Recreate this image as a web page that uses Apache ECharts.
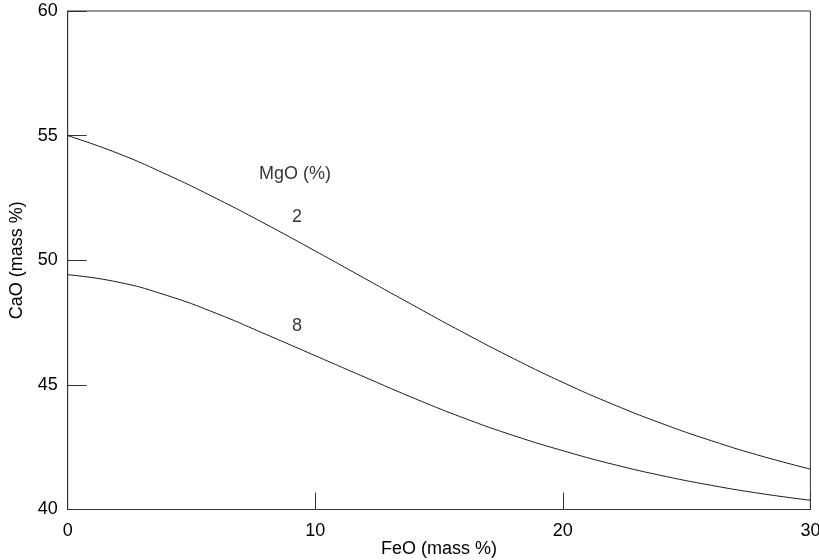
<!DOCTYPE html>
<html>
<head>
<meta charset="utf-8">
<script src="https://cdn.jsdelivr.net/npm/echarts@6/dist/echarts.min.js"></script>
<style>
html,body{margin:0;padding:0;background:#fff;}
#chart{width:819px;height:560px;}
</style>
</head>
<body>
<div id="chart"></div>
<script>
// FeO (mass %) sample positions
const feo = [0, 2, 4, 6, 8, 10, 12, 14, 16, 18, 20, 22, 24, 26, 28, 30];
// CaO (mass %) for MgO = 2 %
const cao_mgo2 = [55.0, 54.3, 53.44, 52.48, 51.45, 50.37, 49.27, 48.17, 47.09, 46.06, 45.1, 44.23, 43.45, 42.76, 42.15, 41.62];
// CaO (mass %) for MgO = 8 %
const cao_mgo8 = [49.42, 49.13, 48.59, 47.87, 47.03, 46.17, 45.31, 44.46, 43.67, 42.97, 42.36, 41.82, 41.36, 40.97, 40.64, 40.37];
// annotations: [FeO, CaO, text]
const annotations = [
  [9.18, 53.45, 'MgO (%)'],
  [9.26, 51.72, '2'],
  [9.26, 47.35, '8']
];
const xTicks = [0, 10, 20, 30];
const yTicks = [40, 45, 50, 55, 60];

const ink = '#000';
const font = '"Liberation Sans", Arial, sans-serif';

const chart = echarts.init(document.getElementById('chart'), null, {renderer: 'canvas'});
chart.setOption({
  animation: false,
  backgroundColor: '#fff',
  grid: {
    left: 67.7, right: 8.6, top: 11, bottom: 50.5,
    containLabel: false, outerBoundsMode: 'none',
    show: true, borderColor: '#333', borderWidth: 1, backgroundColor: 'transparent'
  },
  xAxis: {
    type: 'value',
    min: xTicks[0], max: xTicks[xTicks.length - 1], interval: 10,
    name: 'FeO (mass %)', nameLocation: 'middle', nameGap: 30.5, nameMoveOverlap: false,
    nameTextStyle: {color: ink, fontSize: 18, fontFamily: font},
    axisLine: {show: true, lineStyle: {color: '#333', width: 1}},
    axisTick: {show: true, inside: true, length: 17, lineStyle: {color: '#333', width: 1}},
    axisLabel: {color: ink, fontSize: 18, fontFamily: font, margin: 13},
    splitLine: {show: false}
  },
  yAxis: {
    type: 'value',
    min: yTicks[0], max: yTicks[yTicks.length - 1], interval: 5,
    name: 'CaO (mass %)', nameLocation: 'middle', nameGap: 42, nameMoveOverlap: false,
    nameTextStyle: {color: ink, fontSize: 18, fontFamily: font},
    axisLine: {show: true, lineStyle: {color: '#333', width: 1}},
    axisTick: {show: true, inside: true, length: 19, lineStyle: {color: '#333', width: 1}},
    axisLabel: {color: ink, fontSize: 18, fontFamily: font, margin: 10},
    splitLine: {show: false}
  },
  series: [
    {
      name: 'MgO 2', type: 'line', smooth: 0.5, showSymbol: false,
      lineStyle: {color: '#1a1a1a', width: 1},
      data: feo.map((x, i) => [x, cao_mgo2[i]])
    },
    {
      name: 'MgO 8', type: 'line', smooth: 0.5, showSymbol: false,
      lineStyle: {color: '#1a1a1a', width: 1},
      data: feo.map((x, i) => [x, cao_mgo8[i]])
    },
    {
      name: 'labels', type: 'scatter', symbolSize: 0, silent: true,
      data: annotations.map(a => ({value: [a[0], a[1]], name: a[2]})),
      label: {
        show: true, position: 'inside', formatter: p => p.name,
        color: ink, fontSize: 18, fontFamily: font
      }
    }
  ]
});
</script>
</body>
</html>
